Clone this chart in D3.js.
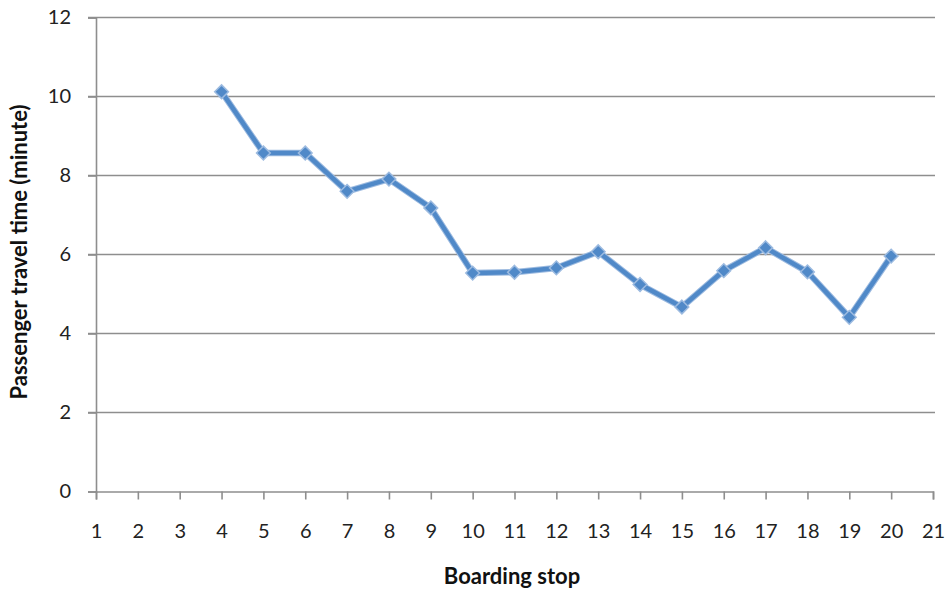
<!DOCTYPE html>
<html><head><meta charset="utf-8">
<script src="https://cdn.jsdelivr.net/npm/d3@7"></script>
<style>body{margin:0;background:#fff}svg{display:block}</style>
</head><body>
<svg id="c" width="945" height="594"></svg>
<script>
const stops = [4,5,6,7,8,9,10,11,12,13,14,15,16,17,18,19,20];
const travelTime = [10.12,8.57,8.57,7.60,7.91,7.18,5.53,5.55,5.66,6.07,5.24,4.67,5.59,6.17,5.56,4.41,5.96];
const xTicks = d3.range(1,22);
const yTicks = [0,2,4,6,8,10,12];
const xTitle = "Boarding stop";
const yTitle = "Passenger travel time (minute)";

const svg = d3.select("#c");
const font = "Lato, 'Open Sans', sans-serif";
const x = d3.scaleLinear().domain([1,21]).range([96,933]);
const y = d3.scaleLinear().domain([0,12]).range([491.5,17.5]);
const grey = "#8e8e8e";

// gridlines
svg.append("g").selectAll("line").data(yTicks.filter(d=>d>0)).join("line")
  .attr("x1",88).attr("x2",935).attr("y1",d=>y(d)).attr("y2",d=>y(d))
  .attr("stroke",grey).attr("stroke-width",1.6);

// y axis
const ya = svg.append("g").attr("transform","translate(96,0)")
  .call(d3.axisLeft(y).tickValues(yTicks).tickSize(8).tickPadding(17));
ya.select(".domain").attr("stroke",grey).attr("stroke-width",1.6);
ya.selectAll(".tick line").attr("stroke",grey).attr("stroke-width",1.6);
ya.selectAll("text").attr("font-family",font).attr("font-size",20).attr("fill","#222");

// x axis
const xa = svg.append("g").attr("transform",`translate(0,${y(0)})`)
  .call(d3.axisBottom(x).tickValues(xTicks).tickSize(8).tickPadding(24).tickFormat(d3.format("d")));
xa.select(".domain").attr("stroke",grey).attr("stroke-width",1.6);
xa.selectAll(".tick line").attr("stroke",grey).attr("stroke-width",1.6);
xa.selectAll("text").attr("font-family",font).attr("font-size",20).attr("fill","#222");

// line
const data = stops.map((s,i)=>({s,v:travelTime[i]}));
svg.append("path").datum(data)
  .attr("d",d3.line().x(d=>x(d.s)).y(d=>y(d.v)))
  .attr("fill","none").attr("stroke","#9dbbe0").attr("stroke-width",6.5).attr("stroke-linejoin","round");
svg.append("path").datum(data)
  .attr("d",d3.line().x(d=>x(d.s)).y(d=>y(d.v)))
  .attr("fill","none").attr("stroke","#5089c8").attr("stroke-width",4.5).attr("stroke-linejoin","round");

// markers
svg.append("g").selectAll("path").data(data).join("path")
  .attr("transform",d=>`translate(${x(d.s)},${y(d.v)})`)
  .attr("d",d3.symbol(d3.symbolDiamond2,120)())
  .attr("fill","#5089c8").attr("stroke","#9dbbe0").attr("stroke-width",1.5);

// titles
svg.append("text").attr("x",512).attr("y",584).attr("text-anchor","middle")
  .attr("font-family",font).attr("font-weight","bold").attr("font-size",22).attr("fill","#111").text(xTitle);
svg.append("text").attr("transform","translate(27,252) rotate(-90)").attr("text-anchor","middle")
  .attr("font-family",font).attr("font-weight","bold").attr("font-size",22).attr("fill","#111").text(yTitle);
</script>
</body></html>
